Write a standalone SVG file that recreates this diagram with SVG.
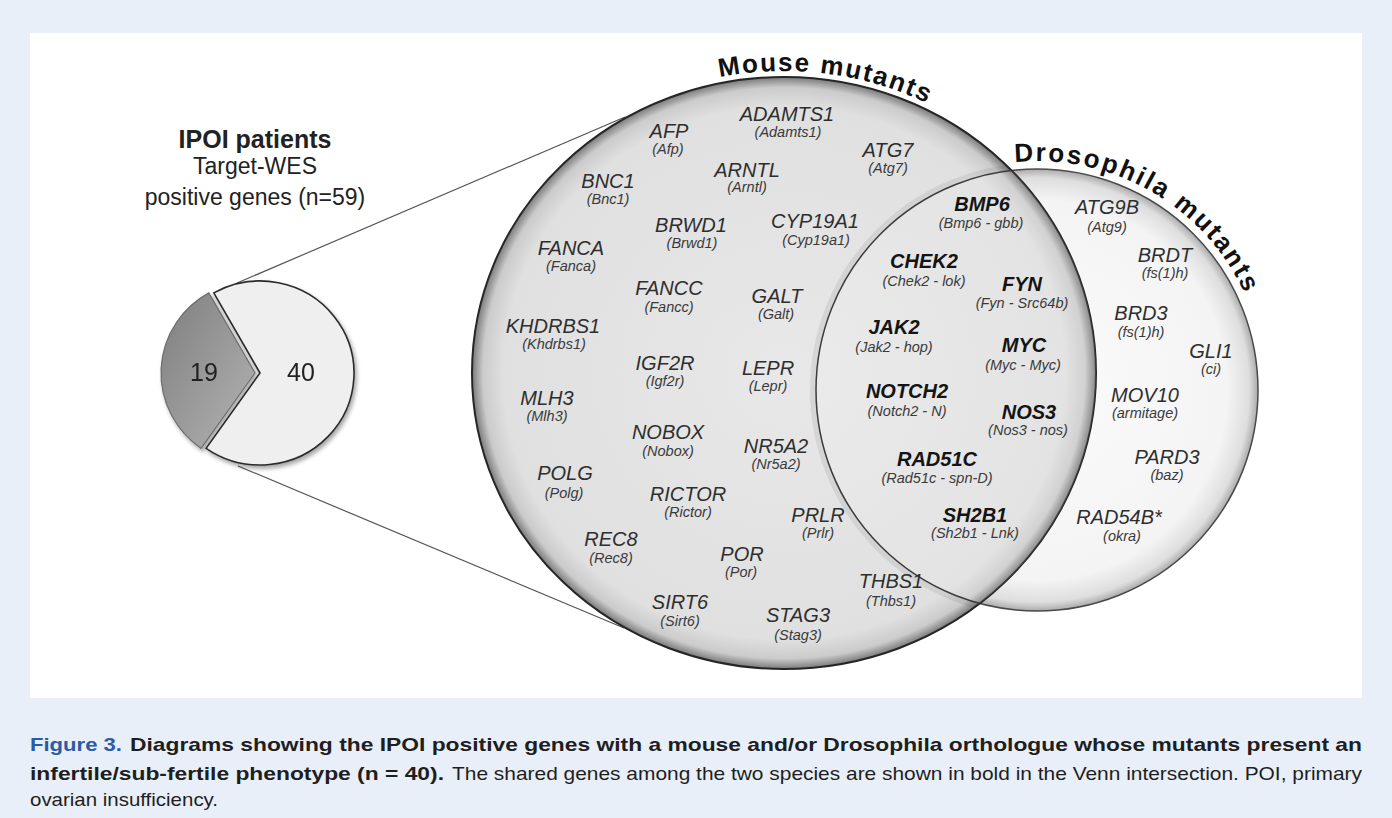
<svg xmlns="http://www.w3.org/2000/svg" width="1392" height="818" viewBox="0 0 1392 818">
<defs>
<style>
.g{font-family:"Liberation Sans",Arial,sans-serif;font-style:italic;font-size:20px;fill:#2e2e2e;text-anchor:middle}
.o{font-family:"Liberation Sans",Arial,sans-serif;font-style:italic;font-size:14.5px;fill:#3a3a3a;text-anchor:middle}
.b{font-weight:bold;fill:#141414}
.arc{font-family:"Liberation Sans",Arial,sans-serif;font-weight:bold;font-size:26px;fill:#111}
.hd{font-family:"Liberation Sans",Arial,sans-serif;fill:#222;text-anchor:middle}
.cap{font-family:"Liberation Sans",Arial,sans-serif;font-size:19px;fill:#1e1e1e}
.conn{stroke:#555;stroke-width:1.2;fill:none}
</style>
<radialGradient id="gMouse" cx="0.5" cy="0.5" r="0.5">
<stop offset="0" stop-color="#e8e8e8"/>
<stop offset="0.9" stop-color="#e0e0e0"/>
<stop offset="0.965" stop-color="#cbcbcb"/>
<stop offset="1" stop-color="#7a7a7a"/>
</radialGradient>
<radialGradient id="gDros" cx="0.5" cy="0.5" r="0.5">
<stop offset="0" stop-color="#fbfbfb"/>
<stop offset="0.86" stop-color="#f4f4f4"/>
<stop offset="0.96" stop-color="#dedede"/>
<stop offset="1" stop-color="#ababab"/>
</radialGradient>
<linearGradient id="gDark" x1="0" y1="0" x2="1" y2="1">
<stop offset="0" stop-color="#7e7e7e"/>
<stop offset="1" stop-color="#b4b4b4"/>
</linearGradient>
<filter id="sh" x="-20%" y="-20%" width="140%" height="140%">
<feDropShadow dx="2" dy="3" stdDeviation="2" flood-color="#000" flood-opacity="0.35"/>
</filter>
<clipPath id="clipMouse"><ellipse cx="784" cy="373" rx="312" ry="296"/></clipPath>
<path id="pMouse" d="M 466 373 A 318 302 0 0 1 1102 373"/>
<path id="pDros" d="M 808 390 A 229 229 0 0 1 1266 390"/>
</defs>

<rect x="0" y="0" width="1392" height="818" fill="#e8eff8"/>
<rect x="30" y="33" width="1332" height="665" fill="#ffffff"/>

<g id="connectors">
<line class="conn" x1="237" y1="283" x2="625" y2="117"/>
<line class="conn" x1="238" y1="466" x2="624" y2="628"/>
</g>

<g id="ipoi-title">
<text class="hd" x="255" y="148" font-size="25" font-weight="bold">IPOI patients</text>
<text class="hd" x="255" y="174" font-size="23">Target-WES</text>
<text class="hd" x="255" y="205" font-size="23">positive genes (n=59)</text>
</g>

<g id="pie" filter="url(#sh)">
<path d="M 260 373 L 213.8 292.9 A 94 92 0 1 1 206.1 448.4 Z" fill="#efefef" stroke="#2b2b2b" stroke-width="1.6"/>
<path d="M 255 373 L 201.1 448.4 A 94 92 0 0 1 208.8 292.9 Z" fill="url(#gDark)" stroke="#6d6d6d" stroke-width="1.2"/>
<text x="204" y="381" font-family="Liberation Sans,Arial,sans-serif" font-size="25" fill="#222" text-anchor="middle">19</text>
<text x="301" y="381" font-family="Liberation Sans,Arial,sans-serif" font-size="25" fill="#222" text-anchor="middle">40</text>
</g>

<g id="drosophila-set">
<circle cx="1037" cy="390" r="221" fill="url(#gDros)" stroke="#4a4a4a" stroke-width="1.5"/>
<text class="arc" letter-spacing="2.2"><textPath href="#pDros" startOffset="337">Drosophila mutants</textPath></text>
</g>

<g id="mouse-set">
<ellipse cx="784" cy="373" rx="312" ry="296" fill="url(#gMouse)" stroke="#262626" stroke-width="2"/>
<text class="arc" letter-spacing="1.8"><textPath href="#pMouse" startOffset="422">Mouse mutants</textPath></text>
</g>

<g id="intersection" clip-path="url(#clipMouse)">
<circle cx="1037" cy="390" r="221" fill="#ffffff" fill-opacity="0.12"/>
<circle cx="1037" cy="390" r="224" fill="none" stroke="#000" stroke-opacity="0.07" stroke-width="6"/>
<circle cx="1037" cy="390" r="221" fill="none" stroke="#3c3c3c" stroke-width="1.5"/>
</g>

<g id="mouse-genes">
<g id="AFP"><text class="g" x="669" y="138">AFP</text><text class="o" x="668" y="154">(Afp)</text></g>
<g id="ADAMTS1"><text class="g" x="787" y="121">ADAMTS1</text><text class="o" x="788" y="137">(Adamts1)</text></g>
<g id="ATG7"><text class="g" x="888" y="157">ATG7</text><text class="o" x="888" y="173">(Atg7)</text></g>
<g id="ARNTL"><text class="g" x="747" y="177">ARNTL</text><text class="o" x="747" y="192">(Arntl)</text></g>
<g id="BNC1"><text class="g" x="608" y="188">BNC1</text><text class="o" x="608" y="204">(Bnc1)</text></g>
<g id="BRWD1"><text class="g" x="691" y="232">BRWD1</text><text class="o" x="692" y="248">(Brwd1)</text></g>
<g id="CYP19A1"><text class="g" x="815" y="228">CYP19A1</text><text class="o" x="816" y="245">(Cyp19a1)</text></g>
<g id="FANCA"><text class="g" x="571" y="255">FANCA</text><text class="o" x="571" y="271">(Fanca)</text></g>
<g id="FANCC"><text class="g" x="669" y="295">FANCC</text><text class="o" x="669" y="312">(Fancc)</text></g>
<g id="GALT"><text class="g" x="777" y="303">GALT</text><text class="o" x="776" y="319">(Galt)</text></g>
<g id="KHDRBS1"><text class="g" x="553" y="333">KHDRBS1</text><text class="o" x="554" y="349">(Khdrbs1)</text></g>
<g id="IGF2R"><text class="g" x="665" y="370">IGF2R</text><text class="o" x="665" y="386">(Igf2r)</text></g>
<g id="LEPR"><text class="g" x="768" y="375">LEPR</text><text class="o" x="768" y="391">(Lepr)</text></g>
<g id="MLH3"><text class="g" x="547" y="405">MLH3</text><text class="o" x="547" y="421">(Mlh3)</text></g>
<g id="NOBOX"><text class="g" x="668" y="439">NOBOX</text><text class="o" x="668" y="456">(Nobox)</text></g>
<g id="NR5A2"><text class="g" x="776" y="453">NR5A2</text><text class="o" x="776" y="469">(Nr5a2)</text></g>
<g id="POLG"><text class="g" x="565" y="480">POLG</text><text class="o" x="564" y="498">(Polg)</text></g>
<g id="RICTOR"><text class="g" x="688" y="501">RICTOR</text><text class="o" x="688" y="517">(Rictor)</text></g>
<g id="PRLR"><text class="g" x="818" y="522">PRLR</text><text class="o" x="818" y="538">(Prlr)</text></g>
<g id="REC8"><text class="g" x="611" y="546">REC8</text><text class="o" x="611" y="563">(Rec8)</text></g>
<g id="POR"><text class="g" x="742" y="561">POR</text><text class="o" x="741" y="577">(Por)</text></g>
<g id="THBS1"><text class="g" x="891" y="588">THBS1</text><text class="o" x="891" y="606">(Thbs1)</text></g>
<g id="SIRT6"><text class="g" x="680" y="609">SIRT6</text><text class="o" x="680" y="626">(Sirt6)</text></g>
<g id="STAG3"><text class="g" x="798" y="622">STAG3</text><text class="o" x="798" y="640">(Stag3)</text></g>
</g>

<g id="shared-genes">
<g id="BMP6"><text class="g b" x="982" y="211">BMP6</text><text class="o" x="981" y="228">(Bmp6 - gbb)</text></g>
<g id="CHEK2"><text class="g b" x="924" y="268">CHEK2</text><text class="o" x="924" y="286">(Chek2 - lok)</text></g>
<g id="FYN"><text class="g b" x="1022" y="291">FYN</text><text class="o" x="1022" y="308">(Fyn - Src64b)</text></g>
<g id="JAK2"><text class="g b" x="894" y="334">JAK2</text><text class="o" x="894" y="352">(Jak2 - hop)</text></g>
<g id="MYC"><text class="g b" x="1024" y="352">MYC</text><text class="o" x="1023" y="370">(Myc - Myc)</text></g>
<g id="NOTCH2"><text class="g b" x="907" y="398">NOTCH2</text><text class="o" x="907" y="416">(Notch2 - N)</text></g>
<g id="NOS3"><text class="g b" x="1029" y="419">NOS3</text><text class="o" x="1028" y="435">(Nos3 - nos)</text></g>
<g id="RAD51C"><text class="g b" x="937" y="466">RAD51C</text><text class="o" x="937" y="483">(Rad51c - spn-D)</text></g>
<g id="SH2B1"><text class="g b" x="975" y="522">SH2B1</text><text class="o" x="975" y="538">(Sh2b1 - Lnk)</text></g>
</g>

<g id="drosophila-genes">
<g id="ATG9B"><text class="g" x="1107" y="214">ATG9B</text><text class="o" x="1107" y="232">(Atg9)</text></g>
<g id="BRDT"><text class="g" x="1165" y="262">BRDT</text><text class="o" x="1165" y="278">(fs(1)h)</text></g>
<g id="BRD3"><text class="g" x="1141" y="320">BRD3</text><text class="o" x="1141" y="337">(fs(1)h)</text></g>
<g id="GLI1"><text class="g" x="1211" y="358">GLI1</text><text class="o" x="1211" y="374">(ci)</text></g>
<g id="MOV10"><text class="g" x="1145" y="402">MOV10</text><text class="o" x="1145" y="418">(armitage)</text></g>
<g id="PARD3"><text class="g" x="1167" y="464">PARD3</text><text class="o" x="1167" y="480">(baz)</text></g>
<g id="RAD54B"><text class="g" x="1119" y="524">RAD54B*</text><text class="o" x="1122" y="541">(okra)</text></g>
</g>

<g id="caption">
<text class="cap" x="30" y="751" font-weight="bold" style="fill:#2b5aa6" textLength="92" lengthAdjust="spacingAndGlyphs">Figure 3.</text>
<text class="cap" x="130" y="751" font-weight="bold" textLength="1232" lengthAdjust="spacingAndGlyphs">Diagrams showing the IPOI positive genes with a mouse and/or Drosophila orthologue whose mutants present an</text>
<text class="cap" x="30" y="780" font-weight="bold" textLength="414" lengthAdjust="spacingAndGlyphs">infertile/sub-fertile phenotype (n = 40).</text>
<text class="cap" x="452" y="780" textLength="910" lengthAdjust="spacingAndGlyphs">The shared genes among the two species are shown in bold in the Venn intersection. POI, primary</text>
<text class="cap" x="30" y="806" textLength="188" lengthAdjust="spacingAndGlyphs">ovarian insufficiency.</text>
</g>
</svg>
